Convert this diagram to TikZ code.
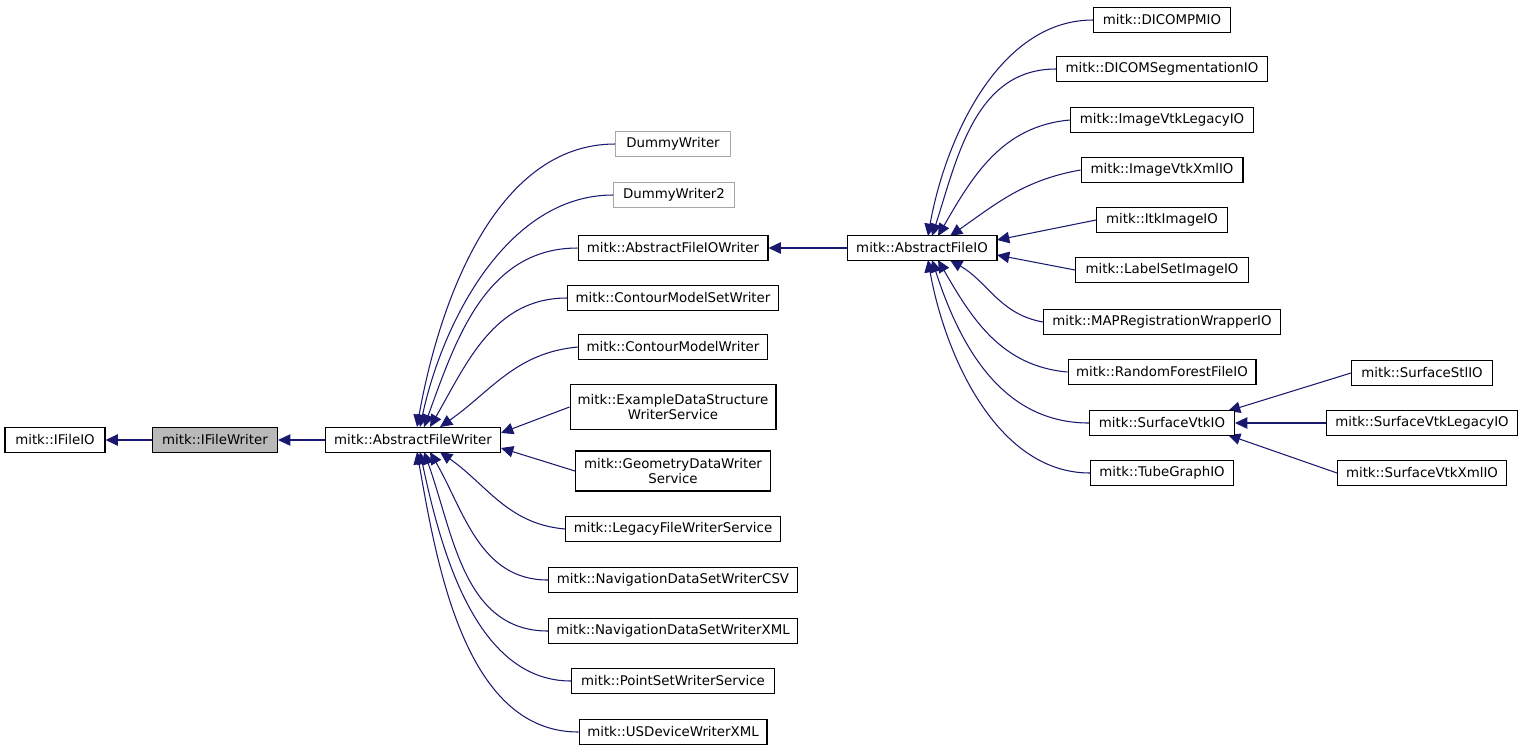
\documentclass[tikz,border=0pt]{standalone}
\usepackage{fontspec}
\setmainfont{DejaVu Sans}
\usetikzlibrary{arrows.meta}
\definecolor{edge}{HTML}{191970}
\pgfdeclarelayer{bg}
\pgfsetlayers{bg,main}
\begin{document}
\begin{tikzpicture}[x=0.02cm,y=-0.02cm,
  box/.style={draw=black,fill=white,line width=0.6pt,minimum height=0.5cm,inner sep=1pt,font=\fontsize{7.6}{8.6}\selectfont,align=center},
  gbox/.style={box,draw=gray!70},
  e/.style={draw=edge,line width=0.6pt,-{Triangle[length=7pt,width=6.5pt]}}]
\useasboundingbox (0,0) rectangle (1524,752);
\node[box,minimum width=2cm] (ifileio) at (55,440) {mitk::IFileIO};
\node[box,minimum width=2.5cm,fill=gray!55] (ifw) at (215,440) {mitk::IFileWriter};
\node[box,minimum width=3.5cm] (afw) at (413,440) {mitk::AbstractFileWriter};
\node[gbox,minimum width=2.3cm] (d1) at (673,144) {DummyWriter};
\node[gbox,minimum width=2.42cm] (d2) at (674,195) {DummyWriter2};
\node[box,minimum width=3.8cm] (afiow) at (673,248) {mitk::AbstractFileIOWriter};
\node[box,minimum width=4.22cm] (cmsw) at (673,298) {mitk::ContourModelSetWriter};
\node[box,minimum width=3.78cm] (cmw) at (673,347) {mitk::ContourModelWriter};
\node[box,minimum width=4.12cm,minimum height=0.9cm] (ex) at (673,407) {mitk::ExampleDataStructure\\WriterService};
\node[box,minimum width=3.9cm,minimum height=0.8cm] (geo) at (673,471) {mitk::GeometryDataWriter\\Service};
\node[box,minimum width=4.3cm] (leg) at (673,529) {mitk::LegacyFileWriterService};
\node[box,minimum width=4.98cm] (csv) at (673,580) {mitk::NavigationDataSetWriterCSV};
\node[box,minimum width=4.98cm] (xml) at (673,631) {mitk::NavigationDataSetWriterXML};
\node[box,minimum width=4.06cm] (ps) at (673,681) {mitk::PointSetWriterService};
\node[box,minimum width=3.76cm] (us) at (673,732) {mitk::USDeviceWriterXML};
\node[box,minimum width=3cm] (afio) at (922,248) {mitk::AbstractFileIO};
\node[box,minimum width=2.74cm] (c1) at (1162,20) {mitk::DICOMPMIO};
\node[box,minimum width=4.22cm] (c2) at (1162,69) {mitk::DICOMSegmentationIO};
\node[box,minimum width=3.66cm] (c3) at (1162,120) {mitk::ImageVtkLegacyIO};
\node[box,minimum width=3.24cm] (c4) at (1162,170) {mitk::ImageVtkXmlIO};
\node[box,minimum width=2.62cm] (c5) at (1162,220) {mitk::ItkImageIO};
\node[box,minimum width=3.46cm] (c6) at (1162,270) {mitk::LabelSetImageIO};
\node[box,minimum width=4.74cm] (c7) at (1162,322) {mitk::MAPRegistrationWrapperIO};
\node[box,minimum width=3.76cm] (c8) at (1162,372) {mitk::RandomForestFileIO};
\node[box,minimum width=2.9cm] (svtk) at (1162,423) {mitk::SurfaceVtkIO};
\node[box,minimum width=2.86cm] (c10) at (1162,473) {mitk::TubeGraphIO};
\node[box,minimum width=2.82cm] (s1) at (1422,373) {mitk::SurfaceStlIO};
\node[box,minimum width=3.82cm] (s2) at (1422,423) {mitk::SurfaceVtkLegacyIO};
\node[box,minimum width=3.38cm] (s3) at (1422,473) {mitk::SurfaceVtkXmlIO};
\begin{pgfonlayer}{bg}
\draw[e] (ifw.west) -- (ifileio.east);
\draw[e] (afw.west) -- (ifw.east);
\draw[e] (d1.west) to[out=180,in=80,looseness=0.9] (417,427);
\draw[e] (d2.west) to[out=180,in=78,looseness=0.9] (420,427);
\draw[e] (afiow.west) to[out=180,in=70] (424,427);
\draw[e] (cmsw.west) to[out=180,in=60] (430,427);
\draw[e] (cmw.west) to[out=185,in=35] (440,427);
\draw[e] (ex.west) -- (501,433);
\draw[e] (geo.west) -- (501,448);
\draw[e] (leg.west) to[out=175,in=-35] (440,452);
\draw[e] (csv.west) to[out=180,in=-60] (430,452);
\draw[e] (xml.west) to[out=180,in=-70] (424,452);
\draw[e] (ps.west) to[out=180,in=-78,looseness=0.9] (420,452);
\draw[e] (us.west) to[out=180,in=-80,looseness=0.9] (417,452);
\draw[e] (afio.west) -- (afiow.east);
\draw[e] (c1.west) to[out=180,in=80,looseness=0.9] (928,236);
\draw[e] (c2.west) to[out=180,in=72] (932,236);
\draw[e] (c3.west) to[out=185,in=60] (938,236);
\draw[e] (c4.west) to[out=190,in=35] (950,236);
\draw[e] (c5.west) -- (997,240);
\draw[e] (c6.west) -- (997,255);
\draw[e] (c7.west) to[out=170,in=-30] (950,260);
\draw[e] (c8.west) to[out=175,in=-60] (938,260);
\draw[e] (svtk.west) to[out=180,in=-72] (932,260);
\draw[e] (c10.west) to[out=180,in=-80,looseness=0.9] (928,260);
\draw[e] (s1.west) -- (1228,411);
\draw[e] (s2.west) -- (svtk.east);
\draw[e] (s3.west) -- (1228,435);
\end{pgfonlayer}
\end{tikzpicture}
\end{document}
